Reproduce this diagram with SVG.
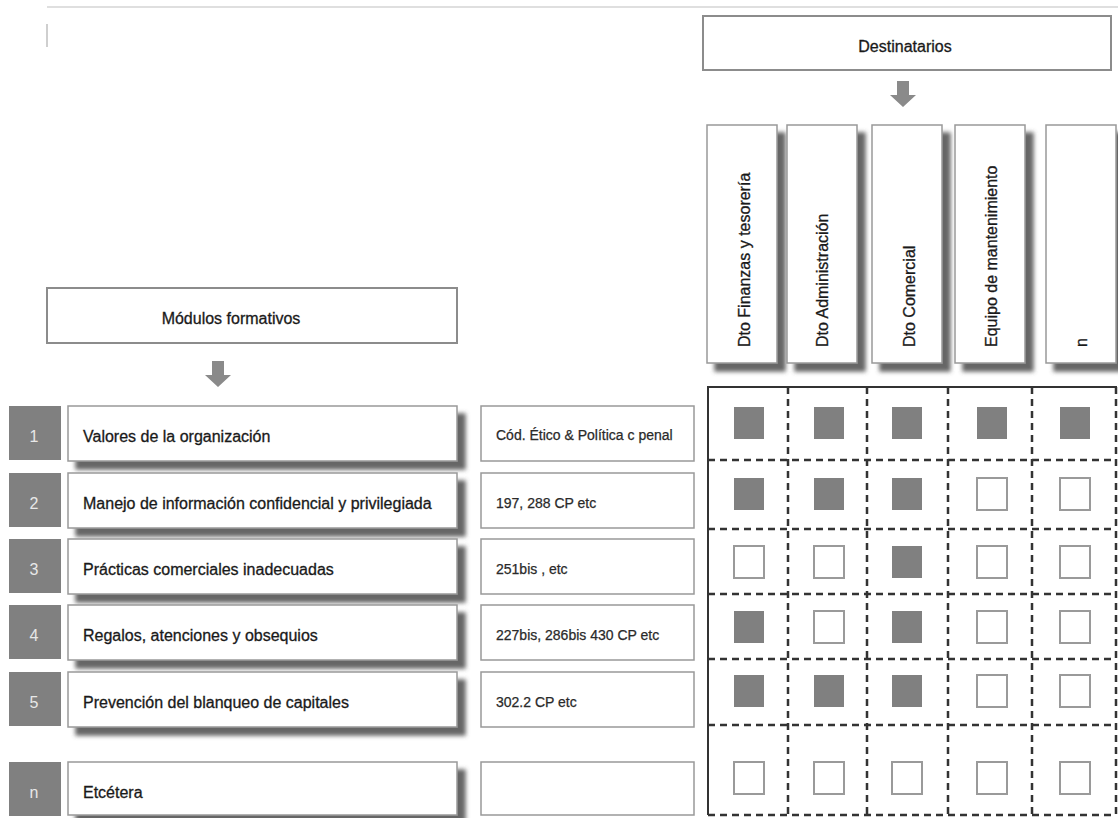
<svg xmlns="http://www.w3.org/2000/svg" width="1118" height="818" viewBox="0 0 1118 818">
  <defs>
    <filter id="shadow" x="-10%" y="-10%" width="135%" height="140%">
      <feDropShadow dx="8" dy="8" stdDeviation="2" flood-color="#555" flood-opacity="0.9"/>
    </filter>
    <style>
      .box { fill: #fff; stroke: #999; stroke-width: 1.5; }
      .head { fill: #fff; stroke: #8c8c8c; stroke-width: 2; }
      .num { fill: #808080; }
      .numtxt { font-family: "Liberation Sans", Arial, sans-serif; font-size: 16px; fill: #e8e8e8; text-anchor: middle; }
      .lbl { font-family: "Liberation Sans", Arial, sans-serif; font-size: 16px; fill: #1a1a1a; stroke: #1a1a1a; stroke-width: 0.3; }
      .ref { font-family: "Liberation Sans", Arial, sans-serif; font-size: 14px; fill: #2a2a2a; stroke: #2a2a2a; stroke-width: 0.25; }
      .mid { text-anchor: middle; }
      .arrow { fill: #8a8a8a; }
      .grid-solid { stroke: #333; stroke-width: 2; fill: none; }
      .grid-dash { stroke: #333; stroke-width: 2.5; stroke-dasharray: 7 5; fill: none; }
      .on { fill: #808080; }
      .off { fill: #fff; stroke: #9a9a9a; stroke-width: 2; }
    </style>
  </defs>

  <rect width="1118" height="818" fill="#fff"/>

  <!-- faint frame remnants at the top -->
  <line x1="47" y1="7" x2="1118" y2="7" stroke="#d4d4d4" stroke-width="1.5"/>
  <line x1="47" y1="24" x2="47" y2="47" stroke="#cfcfcf" stroke-width="2"/>

  <!-- header: Destinatarios -->
  <g id="destinatarios">
    <rect class="head" x="703" y="16" width="408" height="54"/>
    <text class="lbl mid" x="905" y="52">Destinatarios</text>
  </g>

  <!-- header: Módulos formativos -->
  <g id="modulos">
    <rect class="head" x="47" y="288" width="410" height="55"/>
    <text class="lbl mid" x="231" y="324">Módulos formativos</text>
  </g>

  <!-- recipient columns -->
  <g id="col-finanzas">
    <rect class="box" x="707" y="125" width="70" height="238" filter="url(#shadow)"/>
    <text class="lbl" x="750" y="347" transform="rotate(-90 750 347)">Dto Finanzas y tesorería</text>
  </g>
  <g id="col-administracion">
    <rect class="box" x="787" y="125" width="70" height="238" filter="url(#shadow)"/>
    <text class="lbl" x="828" y="347" transform="rotate(-90 828 347)">Dto Administración</text>
  </g>
  <g id="col-comercial">
    <rect class="box" x="872" y="125" width="70" height="238" filter="url(#shadow)"/>
    <text class="lbl" x="915" y="347" transform="rotate(-90 915 347)">Dto Comercial</text>
  </g>
  <g id="col-mantenimiento">
    <rect class="box" x="955" y="125" width="70" height="238" filter="url(#shadow)"/>
    <text class="lbl" x="997" y="347" transform="rotate(-90 997 347)">Equipo de mantenimiento</text>
  </g>
  <g id="col-n">
    <rect class="box" x="1046" y="125" width="70" height="238" filter="url(#shadow)"/>
    <text class="lbl" x="1087" y="347" transform="rotate(-90 1087 347)">n</text>
  </g>

  <!-- module rows: number tag, title box, legal reference box -->
  <g id="row-1">
    <rect class="num" x="9" y="406" width="52" height="54"/>
    <text class="numtxt" x="34" y="442">1</text>
    <rect class="box" x="68" y="406" width="389" height="55" filter="url(#shadow)"/>
    <text class="lbl" x="83" y="442">Valores de la organización</text>
    <rect class="box" x="481" y="406" width="213" height="55"/>
    <text class="ref" x="496" y="440">Cód. Ético &amp; Política c penal</text>
  </g>
  <g id="row-2">
    <rect class="num" x="9" y="473" width="52" height="54"/>
    <text class="numtxt" x="34" y="509">2</text>
    <rect class="box" x="68" y="473" width="389" height="55" filter="url(#shadow)"/>
    <text class="lbl" x="83" y="509">Manejo de información confidencial y privilegiada</text>
    <rect class="box" x="481" y="473" width="213" height="55"/>
    <text class="ref" x="496" y="508">197, 288 CP etc</text>
  </g>
  <g id="row-3">
    <rect class="num" x="9" y="539" width="52" height="54"/>
    <text class="numtxt" x="34" y="575">3</text>
    <rect class="box" x="68" y="539" width="389" height="55" filter="url(#shadow)"/>
    <text class="lbl" x="83" y="575">Prácticas comerciales inadecuadas</text>
    <rect class="box" x="481" y="539" width="213" height="55"/>
    <text class="ref" x="496" y="574">251bis , etc</text>
  </g>
  <g id="row-4">
    <rect class="num" x="9" y="605" width="52" height="54"/>
    <text class="numtxt" x="34" y="641">4</text>
    <rect class="box" x="68" y="605" width="389" height="55" filter="url(#shadow)"/>
    <text class="lbl" x="83" y="641">Regalos, atenciones y obsequios</text>
    <rect class="box" x="481" y="605" width="213" height="55"/>
    <text class="ref" x="496" y="640">227bis, 286bis 430 CP etc</text>
  </g>
  <g id="row-5">
    <rect class="num" x="9" y="672" width="52" height="54"/>
    <text class="numtxt" x="34" y="708">5</text>
    <rect class="box" x="68" y="672" width="389" height="55" filter="url(#shadow)"/>
    <text class="lbl" x="83" y="708">Prevención del blanqueo de capitales</text>
    <rect class="box" x="481" y="672" width="213" height="55"/>
    <text class="ref" x="496" y="707">302.2 CP etc</text>
  </g>
  <g id="row-n">
    <rect class="num" x="9" y="762" width="52" height="54"/>
    <text class="numtxt" x="34" y="798">n</text>
    <rect class="box" x="68" y="762" width="389" height="53" filter="url(#shadow)"/>
    <text class="lbl" x="83" y="798">Etcétera</text>
    <rect class="box" x="481" y="762" width="213" height="53"/>
  </g>

  <!-- assignment matrix -->
  <g id="matrix">
    <path class="grid-solid" d="M708 815 V387 H1117"/>
    <path class="grid-dash" d="M1116 387 V815 M708 815 H1116"/>
    <path class="grid-dash" d="M788 387 V815 M867 387 V815 M948 387 V815 M1032 387 V815"/>
    <path class="grid-dash" d="M708 460 H1116 M708 529 H1116 M708 594 H1116 M708 659 H1116 M708 725 H1116"/>

    <!-- row 1 -->
    <rect class="on" x="734" y="407" width="30" height="32"/>
    <rect class="on" x="814" y="407" width="30" height="32"/>
    <rect class="on" x="892" y="407" width="30" height="32"/>
    <rect class="on" x="977" y="407" width="30" height="32"/>
    <rect class="on" x="1060" y="407" width="30" height="32"/>
    <!-- row 2 -->
    <rect class="on" x="734" y="478" width="30" height="32"/>
    <rect class="on" x="814" y="478" width="30" height="32"/>
    <rect class="on" x="892" y="478" width="30" height="32"/>
    <rect class="off" x="977" y="478" width="30" height="32"/>
    <rect class="off" x="1060" y="478" width="30" height="32"/>
    <!-- row 3 -->
    <rect class="off" x="734" y="546" width="30" height="32"/>
    <rect class="off" x="814" y="546" width="30" height="32"/>
    <rect class="on" x="892" y="546" width="30" height="32"/>
    <rect class="off" x="977" y="546" width="30" height="32"/>
    <rect class="off" x="1060" y="546" width="30" height="32"/>
    <!-- row 4 -->
    <rect class="on" x="734" y="611" width="30" height="32"/>
    <rect class="off" x="814" y="611" width="30" height="32"/>
    <rect class="on" x="892" y="611" width="30" height="32"/>
    <rect class="off" x="977" y="611" width="30" height="32"/>
    <rect class="off" x="1060" y="611" width="30" height="32"/>
    <!-- row 5 -->
    <rect class="on" x="734" y="675" width="30" height="32"/>
    <rect class="on" x="814" y="675" width="30" height="32"/>
    <rect class="on" x="892" y="675" width="30" height="32"/>
    <rect class="off" x="977" y="675" width="30" height="32"/>
    <rect class="off" x="1060" y="675" width="30" height="32"/>
    <!-- row n -->
    <rect class="off" x="734" y="762" width="30" height="32"/>
    <rect class="off" x="814" y="762" width="30" height="32"/>
    <rect class="off" x="892" y="762" width="30" height="32"/>
    <rect class="off" x="977" y="762" width="30" height="32"/>
    <rect class="off" x="1060" y="762" width="30" height="32"/>
  </g>

  <!-- down arrows -->
  <g id="connectors">
    <path class="arrow" d="M897 81 H909 V95 H916 L903 107 L890 95 H897 Z"/>
    <path class="arrow" d="M212 361 H224 V375 H231 L218 387 L205 375 H212 Z"/>
  </g>
</svg>
